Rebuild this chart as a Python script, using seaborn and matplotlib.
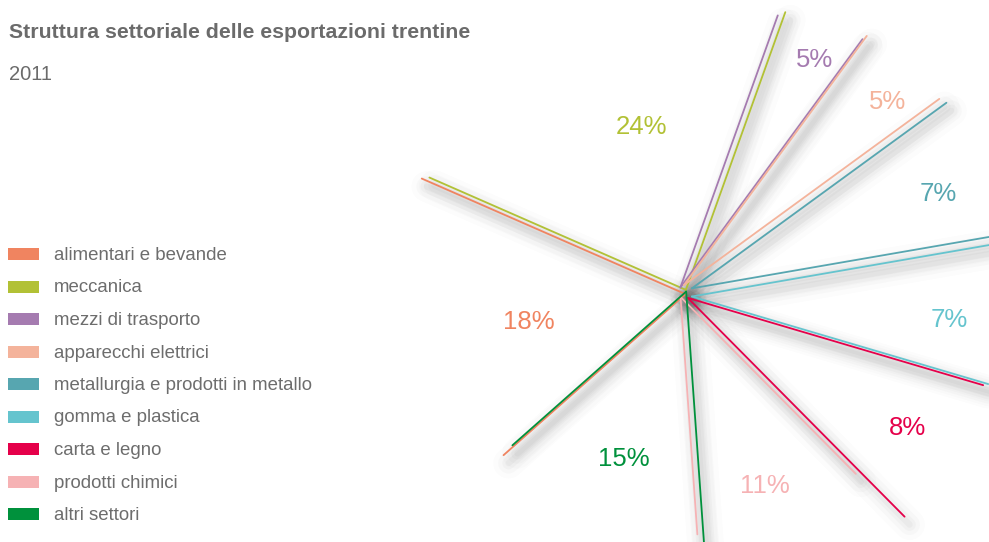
import numpy as np
import pandas as pd
import matplotlib
matplotlib.use("Agg")
import matplotlib.pyplot as plt
from matplotlib.patches import Rectangle
import seaborn as sns

# Export shares by sector, Trentino 2011 (percent)
sectors = [
    "alimentari e bevande",
    "meccanica",
    "mezzi di trasporto",
    "apparecchi elettrici",
    "metallurgia e prodotti in metallo",
    "gomma e plastica",
    "carta e legno",
    "prodotti chimici",
    "altri settori",
]
shares = [18.1, 23.9, 4.6, 4.9, 7.3, 7.3, 8.0, 11.3, 14.6]
colors = ["#F08460", "#B2C135", "#A57BB0", "#F4B39B", "#57A6B0",
          "#65C4CE", "#E5004A", "#F6B2B4", "#00913C"]

title = "Struttura settoriale delle esportazioni trentine"
subtitle = "2011"

# --- drawing geometry (pixels) ---
W, H = 989, 542
CX, CY = 686, 292            # hub of the spokes
START_ANGLE = 221.5          # degrees, sectors run clockwise
# spoke length (start edge, end edge) for every sector
ray_len = [(243, 288), (280, 295), (289, 308), (309, 316), (315, 340),
           (340, 309), (308, 308), (249, 238), (270, 232)]
# sideways gap between a sector's end edge and the next sector's start edge
seam_gap = [-4.0, 6.0, -1.5, -7.3, -8.0, -2.5, -4.5, 6.0, 1.5]
label_r = [160, 171, 265, 277, 271, 265, 260, 209, 178]
label_dang = [2.0, -8.4, -1.0, -1.5, -1.7, -2.8, -0.7, -2.2, 1.6]

sns.set_theme(style="white")
plt.rcParams["font.family"] = ["Liberation Sans", "DejaVu Sans"]

fig = plt.figure(figsize=(W / 100, H / 100), dpi=100)
ax = fig.add_axes([0, 0, 1, 1])
ax.set_xlim(-CX, W - CX)
ax.set_ylim(CY - H, CY)
ax.set_aspect("equal")
ax.axis("off")


def px(x, y):
    return x - CX, CY - y


# sector edge angles, clockwise from the start angle
n = len(shares)
edges = START_ANGLE - 3.6 * np.concatenate([[0], np.cumsum(shares)])

# small apex shifts so that neighbouring edges sit side by side
M = np.zeros((n, 2 * n))
for j in range(n):
    t = np.deg2rad(edges[j + 1])
    nrm = np.array([-np.sin(t), np.cos(t)])
    nxt = (j + 1) % n
    M[j, 2 * nxt:2 * nxt + 2] += nrm
    M[j, 2 * j:2 * j + 2] -= nrm
apex = np.linalg.lstsq(M, np.array(seam_gap), rcond=None)[0].reshape(n, 2)

# spoke table: two rays per sector
rows = []
for i, name in enumerate(sectors):
    ax0, ay0 = apex[i]
    for k, t in enumerate((edges[i], edges[i + 1])):
        r = ray_len[i][k]
        tr = np.deg2rad(t)
        rid = f"{i}-{k}"
        rows.append(dict(sector=name, ray=rid, x=ax0, y=ay0))
        rows.append(dict(sector=name, ray=rid,
                         x=ax0 + r * np.cos(tr), y=ay0 + r * np.sin(tr)))
spokes = pd.DataFrame(rows)

# soft drop shadow under each spoke
for _, g in spokes.groupby("ray"):
    for lw, a in [(22, 0.016), (15, 0.022), (9, 0.03), (4.5, 0.038)]:
        ax.plot(g["x"] + 5, g["y"] - 8, color="#4a4a4a", lw=lw, alpha=a,
                solid_capstyle="round", zorder=1)

sns.lineplot(data=spokes, x="x", y="y", hue="sector", units="ray",
             estimator=None, sort=False, palette=dict(zip(sectors, colors)),
             hue_order=sectors, lw=1.3, legend=False, ax=ax, zorder=3)

# percentage labels
for i, v in enumerate(shares):
    a = np.deg2rad((edges[i] + edges[i + 1]) / 2 + label_dang[i])
    ax.text(label_r[i] * np.cos(a), label_r[i] * np.sin(a), f"{v:.0f}%",
            color=colors[i], fontsize=18.5, ha="center", va="center", zorder=4)

# titles
ax.text(*px(9, 32), title, fontsize=15.3, fontweight="bold", color="#6b6b6b",
        ha="left", va="center")
ax.text(*px(9, 74), subtitle, fontsize=14.5, color="#6b6b6b",
        ha="left", va="center")

# legend
for i, (name, c) in enumerate(zip(sectors, colors)):
    yc = 254 + i * 32.5
    x0, y0 = px(8, yc + 6)
    ax.add_patch(Rectangle((x0, y0), 31, 12, color=c, lw=0, zorder=4))
    ax.text(*px(54, yc + 1.5), name, fontsize=13.4, color="#6d6d6d",
            ha="left", va="center")

fig.savefig("out.png", dpi=100)
